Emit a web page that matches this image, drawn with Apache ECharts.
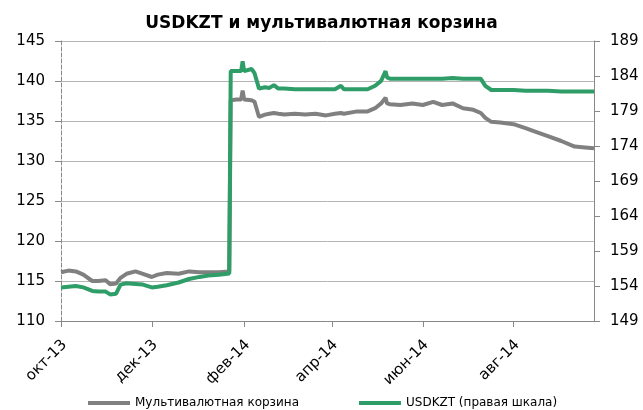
<!DOCTYPE html>
<html>
<head>
<meta charset="utf-8">
<script src="https://cdn.jsdelivr.net/npm/echarts@6/dist/echarts.min.js"></script>
<style>
  html, body { margin: 0; padding: 0; background: #fff; }
  #chart { width: 643px; height: 410px; }
</style>
</head>
<body>
<div id="chart"></div>
<script>
// dates of the points, basket (left scale) and USDKZT (right scale)
const dates = [
  '2013-10-01', '2013-10-06', '2013-10-11', '2013-10-16', '2013-10-22', '2013-10-26', '2013-10-31',
  '2013-11-03', '2013-11-07', '2013-11-10', '2013-11-14', '2013-11-20', '2013-11-25',
  '2013-12-01', '2013-12-05', '2013-12-11', '2013-12-19', '2013-12-26',
  '2014-01-02', '2014-01-08', '2014-01-15', '2014-01-22', '2014-01-23', '2014-01-27', '2014-01-30', '2014-01-31',
  '2014-02-01', '2014-02-06', '2014-02-08', '2014-02-11', '2014-02-15', '2014-02-18', '2014-02-21', '2014-02-24', '2014-02-28',
  '2014-03-07', '2014-03-14', '2014-03-21', '2014-03-28',
  '2014-04-03', '2014-04-07', '2014-04-09', '2014-04-18', '2014-04-25', '2014-04-30',
  '2014-05-04', '2014-05-07', '2014-05-08', '2014-05-10', '2014-05-17', '2014-05-25',
  '2014-06-01', '2014-06-08', '2014-06-14', '2014-06-21', '2014-06-28',
  '2014-07-05', '2014-07-10', '2014-07-13', '2014-07-17', '2014-07-23',
  '2014-08-01', '2014-08-09', '2014-08-15', '2014-08-24',
  '2014-09-02', '2014-09-11', '2014-09-18', '2014-09-24'
]
const basket = [
  116.1, 116.3, 116.2, 115.8, 115.0, 115.0, 115.1,
  114.6, 114.7, 115.4, 115.9, 116.2, 115.9,
  115.5, 115.8, 116.0, 115.9, 116.2,
  116.1, 116.1, 116.1, 116.2, 137.6, 137.7, 137.7, 138.8,
  137.7, 137.6, 137.4, 135.5, 135.8, 135.9, 136.0, 135.9, 135.8,
  135.9, 135.8, 135.9, 135.7,
  135.9, 136.0, 135.9, 136.2, 136.2, 136.6,
  137.2, 137.9, 137.2, 137.1, 137.0, 137.2,
  137.0, 137.4, 137.0, 137.2, 136.6,
  136.4, 136.0, 135.4, 134.9, 134.8,
  134.6, 134.1, 133.7, 133.1,
  132.5, 131.8, 131.7, 131.6
]
const usdkzt = [
  153.8, 153.9, 154.0, 153.8, 153.3, 153.2, 153.2,
  152.8, 152.9, 154.2, 154.4, 154.3, 154.2,
  153.8, 153.9, 154.1, 154.5, 155.0,
  155.3, 155.5, 155.6, 155.8, 184.7, 184.7, 184.7, 186.1,
  184.7, 185.0, 184.4, 182.2, 182.4, 182.3, 182.7, 182.2, 182.2,
  182.1, 182.1, 182.1, 182.1,
  182.1, 182.6, 182.1, 182.1, 182.1, 182.6,
  183.3, 184.7, 183.8, 183.6, 183.6, 183.6,
  183.6, 183.6, 183.6, 183.7, 183.6,
  183.6, 183.6, 182.6, 182.0, 182.0,
  182.0, 181.9, 181.9, 181.9,
  181.8, 181.8, 181.8, 181.8
]
const tickDates = ['2013-10-01', '2013-12-01', '2014-02-01', '2014-04-01', '2014-06-01', '2014-08-01']
const monthNames = ['янв', 'фев', 'мар', 'апр', 'май', 'июн', 'июл', 'авг', 'сен', 'окт', 'ноя', 'дек']

function toTime(s) {
  const [y, m, d] = s.split('-').map(Number)
  return new Date(y, m - 1, d).getTime()
}

const tickValues = tickDates.map(toTime)
const font = '"DejaVu Sans", Verdana, sans-serif'

const chart = echarts.init(document.getElementById('chart'), null, { renderer: 'canvas' })

chart.setOption({
  animation: false,
  title: {
    text: 'USDKZT и мультивалютная корзина',
    left: 'center',
    top: 10,
    textStyle: { fontFamily: font, fontSize: 17, fontWeight: 'bold', color: '#000' }
  },
  legend: {
    left: 83,
    top: 392,
    icon: 'rect',
    itemWidth: 42,
    itemHeight: 4,
    itemGap: 60,
    textStyle: { fontFamily: font, fontSize: 12, color: '#000' }
  },
  grid: { left: 61, right: 49, top: 41, bottom: 89 },
  xAxis: {
    type: 'value',
    min: toTime('2013-10-01'),
    max: toTime('2014-09-24'),
    axisLine: { show: true, lineStyle: { color: '#888', width: 1 } },
    axisTick: { show: true, length: 6, customValues: tickValues, lineStyle: { color: '#888' } },
    axisLabel: {
      customValues: tickValues,
      rotate: 45,
      margin: 25,
      padding: [0, -5, 0, 0],
      fontFamily: font,
      fontSize: 15,
      color: '#000',
      formatter: (v) => {
        const d = new Date(v)
        return monthNames[d.getMonth()] + '-' + String(d.getFullYear()).slice(2)
      }
    },
    splitLine: { show: false }
  },
  yAxis: [
    {
      type: 'value',
      min: 110,
      max: 145,
      interval: 5,
      axisLine: { show: true, lineStyle: { color: '#888', type: 'dashed', width: 1 } },
      axisTick: { show: true, length: 6, lineStyle: { color: '#888' } },
      axisLabel: { margin: 16, fontFamily: font, fontSize: 15, color: '#000' },
      splitLine: { lineStyle: { color: '#b4b4b4', width: 1 } }
    },
    {
      type: 'value',
      min: 149,
      max: 189,
      interval: 5,
      axisLine: { show: true, lineStyle: { color: '#888', width: 1 } },
      axisTick: { show: true, length: 6, lineStyle: { color: '#888' } },
      axisLabel: { margin: 16, fontFamily: font, fontSize: 15, color: '#000' },
      splitLine: { show: false }
    }
  ],
  series: [
    {
      name: 'Мультивалютная корзина',
      type: 'line',
      yAxisIndex: 0,
      showSymbol: false,
      data: dates.map((d, i) => [toTime(d), basket[i]]),
      lineStyle: { color: '#808080', width: 4 },
      itemStyle: { color: '#808080' }
    },
    {
      name: 'USDKZT (правая шкала)',
      type: 'line',
      yAxisIndex: 1,
      showSymbol: false,
      data: dates.map((d, i) => [toTime(d), usdkzt[i]]),
      lineStyle: { color: '#2f9d67', width: 4 },
      itemStyle: { color: '#2f9d67' }
    }
  ]
})
</script>
</body>
</html>
